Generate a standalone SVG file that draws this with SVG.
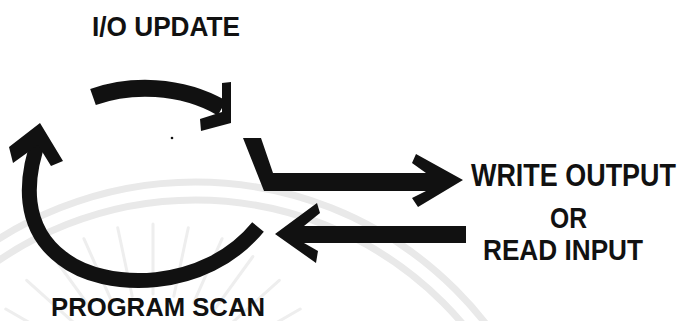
<svg xmlns="http://www.w3.org/2000/svg" width="682" height="321" viewBox="0 0 682 321">
<style>
.wm{fill:none;stroke:#e9e9e9;stroke-width:7}
.ray{stroke:#eeeeee;stroke-width:3;stroke-linecap:round}
.ink{fill:#111}
.arc{fill:none;stroke:#111;stroke-linecap:butt}
.lbl{font-family:"Liberation Sans",Arial,sans-serif;font-weight:bold;fill:#111}
</style>
<rect width="682" height="321" fill="#fff"/>
<g id="watermark">
<circle class="wm" cx="195.5" cy="550" r="368"/>
<circle class="wm" cx="195.5" cy="550" r="350"/>
<line class="ray" x1="153" y1="294" x2="153" y2="224"/>
<line class="ray" x1="173.8" y1="296.2" x2="188.3" y2="227.7"/>
<line class="ray" x1="132.2" y1="296.2" x2="117.7" y2="227.7"/>
<line class="ray" x1="193.7" y1="302.6" x2="222.1" y2="238.7"/>
<line class="ray" x1="112.3" y1="302.6" x2="83.9" y2="238.7"/>
<line class="ray" x1="211.8" y1="313.1" x2="252.9" y2="256.5"/>
<line class="ray" x1="94.2" y1="313.1" x2="53.1" y2="256.5"/>
<line class="ray" x1="227.3" y1="327.1" x2="279.3" y2="280.3"/>
<line class="ray" x1="78.7" y1="327.1" x2="26.7" y2="280.3"/>
<line class="ray" x1="239.6" y1="344" x2="300.2" y2="309"/>
<line class="ray" x1="66.4" y1="344" x2="5.8" y2="309"/>
</g>
<circle cx="172" cy="138" r="1.3" fill="#111"/>
<g id="connectors">
<g id="io-update-arrow">
<path class="arc" stroke-width="17" d="M93,97 C130,84 180,84 222,108"/>
<polygon class="ink" points="222,83 231,82 231,123 201,131 200,119 222,112"/>
</g>
<g id="program-scan-arrow">
<path class="arc" stroke-width="15" d="M40,137 C24,180 22,228 62,258 C105,292 205,292 258,227"/>
<polygon class="ink" points="40,123 63,161 51,166 38,145 13,163 9,147"/>
</g>
<g id="write-output-arrow">
<polygon class="ink" points="243,138 261,138 273,173 426,173 412,163 416,154 463,180 418,207 412,198 426,191 264,191"/>
</g>
<g id="read-input-arrow">
<polygon class="ink" points="275,234 317,203 320,213 304,226 466,226 466,243 304,243 318,251 316,263"/>
</g>
</g>
<g id="io-update"><text class="lbl" x="92" y="36" font-size="27" textLength="148" lengthAdjust="spacingAndGlyphs">I/O UPDATE</text></g>
<g id="write-output"><text class="lbl" transform="translate(471 186) scale(0.869 1)" x="0" y="0" font-size="31">WRITE OUTPUT</text></g>
<g id="or"><text class="lbl" x="550" y="228" font-size="30" textLength="37" lengthAdjust="spacingAndGlyphs">OR</text></g>
<g id="read-input"><text class="lbl" x="483" y="260" font-size="30" textLength="160" lengthAdjust="spacingAndGlyphs">READ INPUT</text></g>
<g id="program-scan"><text class="lbl" x="51" y="315.5" font-size="25" textLength="214" lengthAdjust="spacingAndGlyphs">PROGRAM SCAN</text></g>
</svg>
